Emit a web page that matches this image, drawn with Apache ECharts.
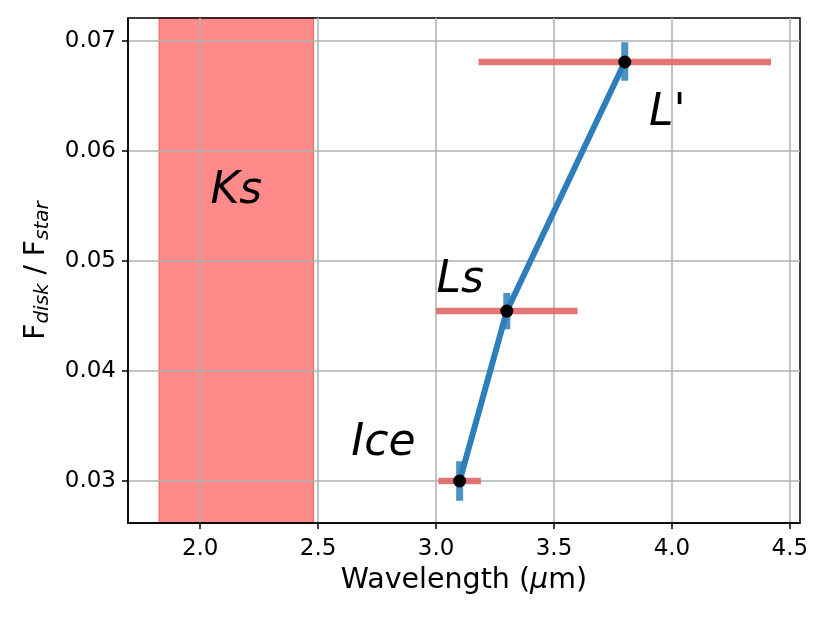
<!DOCTYPE html>
<html>
<head>
<meta charset="utf-8">
<script src="https://cdn.jsdelivr.net/npm/echarts@6/dist/echarts.min.js"></script>
<style>
  html, body { margin: 0; padding: 0; background: #fff; }
  #chart { width: 830px; height: 623px; }
</style>
</head>
<body>
<div id="chart"></div>
<script>
  // measured points (wavelength in um, flux ratio)
  const bandNames = ['Ice', 'Ls', "L'"];
  const wavelength = [3.1, 3.3, 3.8];
  const fluxRatio = [0.0300, 0.04545, 0.0681];
  const xErrLow = [3.01, 3.0, 3.18];
  const xErrHigh = [3.19, 3.6, 4.42];
  const yErrLow = [0.0282, 0.0438, 0.0664];
  const yErrHigh = [0.0318, 0.0471, 0.0699];

  // Ks band span
  const ksSpan = [1.826, 2.48];

  // text annotations
  const labelX = [2.153, 3.102, 2.777, 3.98];
  const labelY = [0.0563, 0.0482, 0.0334, 0.0634];
  const labelText = ['Ks', 'Ls', 'Ice', "L'"];

  const xTicks = [2.0, 2.5, 3.0, 3.5, 4.0, 4.5];
  const yTicks = [0.03, 0.04, 0.05, 0.06, 0.07];

  const chart = echarts.init(document.getElementById('chart'));
  const font = 'DejaVu Sans';

  const series = [];

  // Ks shaded band, grid lines drawn over it
  series.push({
    type: 'line',
    data: [],
    z: 1,
    silent: true,
    markArea: {
      z: 1,
      silent: true,
      itemStyle: { color: 'rgba(255,0,0,0.46)', borderColor: 'rgba(255,70,70,0.9)', borderWidth: 1 },
      data: [[{ xAxis: ksSpan[0] }, { xAxis: ksSpan[1] }]],
    },
  });

  // horizontal error bars (red)
  wavelength.forEach((x, i) => {
    series.push({
      type: 'line',
      data: [[xErrLow[i], fluxRatio[i]], [xErrHigh[i], fluxRatio[i]]],
      symbol: 'none',
      silent: true,
      z: 3,
      lineStyle: { color: '#e06666', opacity: 0.9, width: 6.5, cap: 'butt' },
    });
  });

  // vertical error bars (blue)
  wavelength.forEach((x, i) => {
    series.push({
      type: 'line',
      data: [[x, yErrLow[i]], [x, yErrHigh[i]]],
      symbol: 'none',
      silent: true,
      z: 4,
      lineStyle: { color: '#1f77b4', opacity: 0.8, width: 7, cap: 'butt' },
    });
  });

  // connecting line
  series.push({
    type: 'line',
    data: wavelength.map((x, i) => [x, fluxRatio[i]]),
    symbol: 'none',
    z: 5,
    lineStyle: { color: '#2e7ebc', width: 6 },
  });

  // points
  series.push({
    type: 'scatter',
    data: wavelength.map((x, i) => [x, fluxRatio[i], bandNames[i]]),
    symbolSize: 13,
    z: 6,
    itemStyle: { color: '#000', opacity: 1 },
  });

  // annotations
  series.push({
    type: 'scatter',
    data: labelX.map((x, i) => [x, labelY[i], labelText[i]]),
    symbolSize: 0,
    silent: true,
    z: 7,
    itemStyle: { opacity: 1 },
    label: {
      show: true,
      position: 'inside',
      formatter: (p) => p.data[2],
      fontFamily: font,
      fontStyle: 'italic',
      fontSize: 44,
      color: '#000',
      opacity: 1,
    },
  });

  chart.setOption({
    animation: false,
    grid: { left: 128, right: 30, top: 18, bottom: 100, show: true, z: 2, borderColor: '#000', borderWidth: 1.5, backgroundColor: 'transparent' },
    xAxis: {
      type: 'value',
      z: 2,
      min: 1.694,
      max: 4.543,
      name: 'Wavelength ({i|\u03bc}m)',
      nameLocation: 'middle',
      nameGap: 43,
      nameTextStyle: { fontFamily: font, fontSize: 28.5, color: '#000', rich: { i: { fontFamily: font, fontSize: 28.5, fontStyle: 'italic', color: '#000' } } },
      axisLine: { show: true, onZero: false, lineStyle: { color: '#000', width: 1.5 } },
      axisTick: { show: true, customValues: xTicks, length: 6, lineStyle: { color: '#000', width: 1.5 } },
      axisLabel: { customValues: xTicks, formatter: (v) => v.toFixed(1), fontFamily: font, fontSize: 23, color: '#000', margin: 15 },
      splitLine: { show: true, lineStyle: { color: '#b0b0b0', width: 1.5 } },
    },
    yAxis: {
      type: 'value',
      z: 2,
      min: 0.02618,
      max: 0.0721,
      name: 'F{sub|disk} / F{sub|star}',
      nameLocation: 'middle',
      nameRotate: 90,
      nameGap: 75,
      nameTextStyle: { fontFamily: font, fontSize: 28, color: '#000', rich: { sub: { fontFamily: font, fontSize: 20, fontStyle: 'italic', color: '#000', padding: [12, 0, 0, 0] } } },
      axisLine: { show: true, onZero: false, lineStyle: { color: '#000', width: 1.5 } },
      axisTick: { show: true, customValues: yTicks, length: 6, lineStyle: { color: '#000', width: 1.5 } },
      axisLabel: { customValues: yTicks, formatter: (v) => v.toFixed(2), fontFamily: font, fontSize: 23, color: '#000', margin: 12 },
      splitLine: { show: true, lineStyle: { color: '#b0b0b0', width: 1.5 } },
    },
    series: series,
  });
</script>
</body>
</html>
